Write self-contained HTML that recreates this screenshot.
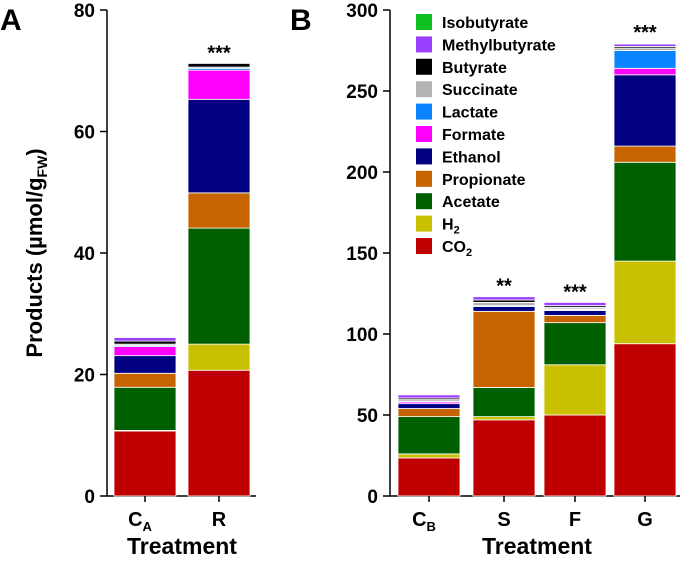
<!DOCTYPE html>
<html><head><meta charset="utf-8"><style>
body{margin:0;background:#fff}
svg text{font-family:"Liberation Sans",Arial,sans-serif;font-weight:bold}
</style></head><body>
<svg id="c" width="680" height="560"></svg>
<script>
const products=["CO2","H2","Acetate","Propionate","Ethanol","Formate","Lactate","Succinate","Butyrate","Methylbutyrate","Isobutyrate"];
const colors=["#c00000","#c8c000","#006000","#c86400","#000080","#ff00ff","#0a84ff","#b4b4b4","#000000","#9a40ff","#10c020"];
const catsA=["CA","R"];
const valsCA=[10.7,0.1,7.1,2.3,2.9,1.5,0.2,0.2,0.5,0.6,0.1];
const valsR=[20.7,4.3,19.1,5.8,15.4,4.8,0.3,0.2,0.6,0,0];
const catsB=["CB","S","F","G"];
const valsCB=[23.5,2.5,23,5,3,1,0.5,1,1,2,0.3];
const valsS=[47,2,18,47,3,0,0.5,2,1.5,2,0];
const valsF=[50,31,26,4.5,3,0.5,0.5,1,1,2,0];
const valsG=[94,51,61,10,44,4,11,1.5,1,1.5,0.5];
const sigA=["","***"];
const sigB=["","**","***","***"];
const ticksA=[0,20,40,60,80];
const ticksB=[0,50,100,150,200,250,300];
const svg=document.getElementById('c');
const NS="http://www.w3.org/2000/svg";
function el(t,a,p){const e=document.createElementNS(NS,t);for(const k in a)e.setAttribute(k,a[k]);(p||svg).appendChild(e);return e;}
const y0=496,yTop=10;
function panel(name,axX,max,ticks,cats,vals,sigs,xs,bw,subs){
  const y=v=>y0-(v/max)*(y0-yTop);
  const g=el('g',{});
  
  
  const ax=el('line',{x1:axX,y1:yTop,x2:axX,y2:y0,stroke:'#000','stroke-width':1.5},g);
  
  const bx=el('line',{x1:axX,y1:y0,x2:xs[xs.length-1]+bw/2+6,y2:y0,stroke:'#000','stroke-width':1.5},g);
  
  ticks.forEach(t=>{
    el('line',{x1:axX-7,y1:y(t),x2:axX,y2:y(t),stroke:'#000','stroke-width':1.5},g);
    const tx=el('text',{x:axX-12,y:y(t)+7,'text-anchor':'end','font-size':19},g);
    tx.textContent=t;
    
  });
  cats.forEach((c,i)=>{
    let acc=0;const cx=xs[i];
    vals[i].forEach((v,j)=>{
      if(v<=0)return;
      const r=el('rect',{x:cx-bw/2,y:y(acc+v),width:bw,height:y(acc)-y(acc+v),fill:colors[j],stroke:'#fff','stroke-width':0.8},g);
      
      
      acc+=v;
    });
    if(sigs[i]){const s=el('text',{x:cx,y:y(acc)-4,'text-anchor':'middle','font-size':20},g);s.textContent=sigs[i];
      }
    el('line',{x1:cx,y1:y0,x2:cx,y2:y0+6,stroke:'#000','stroke-width':1.5},g);
    const l=el('text',{x:cx-(subs[i]?5:0),y:526,'text-anchor':'middle','font-size':20},g);
    l.textContent=c[0];
    if(subs[i]){const ts=el('tspan',{'font-size':13,dy:5},l);ts.textContent=subs[i];}
    
  });
}
panel('panel-a',107,80,ticksA,catsA,[valsCA,valsR],sigA,[145,219],62,["A",""]);
panel('panel-b',390,300,ticksB,catsB,[valsCB,valsS,valsF,valsG],sigB,[429,504,575,645],62,["B","","",""]);
function txt(s,a,n){const t=el('text',a);t.textContent=s;return t;}
txt('A',{x:0,y:30,'font-size':30},'panel-a-label');
txt('B',{x:290,y:30,'font-size':30},'panel-b-label');
txt('Treatment',{x:182,y:554,'text-anchor':'middle','font-size':23},'x-axis-title-a');
txt('Treatment',{x:537,y:554,'text-anchor':'middle','font-size':23},'x-axis-title-b');
const yt=el('text',{x:0,y:0,'text-anchor':'middle','font-size':22,transform:'translate(42,253) rotate(-90)'});

yt.appendChild(document.createTextNode('Products (µmol/g'));
const sb=el('tspan',{'font-size':14,dy:5},yt);sb.textContent='FW';
const cl=el('tspan',{dy:-5},yt);cl.textContent=')';
const labels=["CO2","H2","Acetate","Propionate","Ethanol","Formate","Lactate","Succinate","Butyrate","Methylbutyrate","Isobutyrate"];
for(let k=0;k<11;k++){
  const j=10-k;const cy=22+k*22.4;
  const g=el('g',{});
  
  
  el('rect',{x:416,y:cy-8,width:16,height:16,fill:colors[j]},g);
  const t=el('text',{x:442,y:cy+6,'font-size':16},g);
  if(labels[j]==="CO2"||labels[j]==="H2"){t.appendChild(document.createTextNode(labels[j].slice(0,-1)));const s=el('tspan',{'font-size':11,dy:4},t);s.textContent='2';}
  else t.textContent=labels[j];
}
</script>
</body></html>
